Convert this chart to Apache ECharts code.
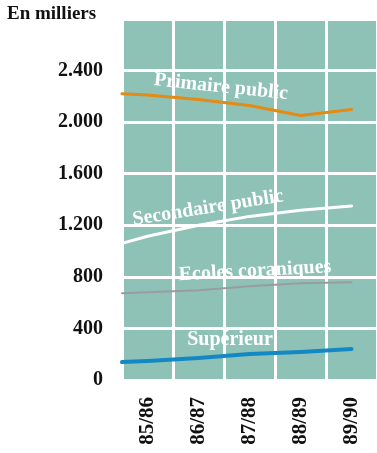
<!DOCTYPE html>
<html><head><meta charset="utf-8">
<script src="https://cdn.jsdelivr.net/npm/echarts@6/dist/echarts.min.js"></script>
<style>html,body{margin:0;padding:0;background:#fff}#c{width:377px;height:453px}</style>
</head><body><div id="c"></div>
<script>
const years = ['85/86', '86/87', '87/88', '88/89', '89/90'];
const yTicks = [0, 400, 800, 1200, 1600, 2000, 2400];
// first value: start of the drawn line (left edge), then one value per school year
const primaire = [2221, 2210, 2175, 2129, 2051, 2098];
const secondaire = [1060, 1115, 1200, 1269, 1316, 1350];
const coraniques = [673, 681, 697, 728, 751, 758];
const superieur = [139, 147, 170, 201, 217, 240];
const seriesNames = ['Primaire public', 'Secondaire public', 'Ecoles coraniques', 'Supérieur'];

const serif = '"Liberation Serif", "DejaVu Serif", serif';
function pts(arr) { return arr.map((v, i) => [i === 0 ? 0 : i - 0.5, v]); }
function fmt(v) { return String(v).replace(/\B(?=(\d{3})+(?!\d))/g, '.'); }

const chart = echarts.init(document.getElementById('c'));
function lineSeries(name, arr, color, width) {
  return { name, type: 'line', xAxisIndex: 1, data: pts(arr), symbol: 'none', smooth: false,
    lineStyle: { color, width, cap: 'round', join: 'round' }, z: 5, silent: true };
}
function label(text, x, y, rotDeg) {
  return { type: 'text', x, y, rotation: rotDeg * Math.PI / 180, z: 10,
    style: { text, fill: '#ffffff', fontFamily: serif, fontWeight: 'bold', fontSize: 20,
      align: 'center', verticalAlign: 'middle' } };
}
chart.setOption({
  animation: false,
  grid: { left: 122, right: -3, top: 19, bottom: 73, show: true, backgroundColor: '#8ec2b7', borderWidth: 0 },
  xAxis: [
    { type: 'category', data: years, boundaryGap: true,
      axisLine: { show: false }, axisTick: { show: false },
      splitLine: { show: true, lineStyle: { color: '#ffffff', width: 3 } },
      axisLabel: { rotate: 90, margin: 17, color: '#111', fontFamily: serif, fontWeight: 'bold', fontSize: 21 } },
    { type: 'value', min: 0, max: 5, show: false }
  ],
  yAxis: { type: 'value', min: 0, max: 2800, interval: 400,
    axisLine: { show: false }, axisTick: { show: false },
    splitLine: { show: true, lineStyle: { color: '#ffffff', width: 3 } },
    axisLabel: { margin: 19, color: '#111', fontFamily: serif, fontWeight: 'bold', fontSize: 20,
      formatter: v => yTicks.indexOf(v) >= 0 ? fmt(v) : '' } },
  series: [
    lineSeries(seriesNames[0], primaire, '#e58a12', 3),
    lineSeries(seriesNames[1], secondaire, '#ffffff', 3),
    lineSeries(seriesNames[2], coraniques, '#9b9c9e', 2),
    lineSeries(seriesNames[3], superieur, '#1388c4', 4)
  ],
  graphic: [
    { type: 'text', left: 7, top: 5, style: { text: 'En milliers', fill: '#111', fontFamily: serif, fontWeight: 'bold', fontSize: 19 } },
    label(seriesNames[0], 221, 87, -6),
    label(seriesNames[1], 208, 208, 9),
    label(seriesNames[2], 255, 271, 3),
    label(seriesNames[3], 230, 340, 0)
  ]
});
</script></body></html>
